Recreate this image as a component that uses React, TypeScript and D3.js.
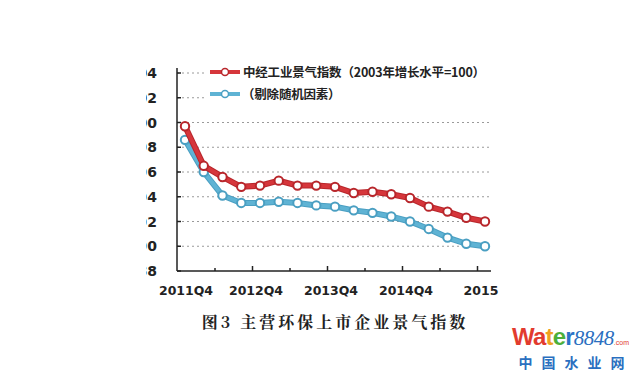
import React, { useEffect, useRef } from 'react'
import * as d3 from 'd3'

// quarterly points, 2011Q4 .. 2015Q4
const quarters = [
  '2011Q4', '2012Q1', '2012Q2', '2012Q3', '2012Q4', '2013Q1', '2013Q2', '2013Q3', '2013Q4',
  '2014Q1', '2014Q2', '2014Q3', '2014Q4', '2015Q1', '2015Q2', '2015Q3', '2015Q4'
]
const indexValues = [99.7, 96.5, 95.6, 94.8, 94.9, 95.3, 94.9, 94.9, 94.8, 94.3, 94.4, 94.2, 93.9, 93.2, 92.8, 92.3, 92.0]
const adjustedValues = [98.6, 96.0, 94.1, 93.5, 93.5, 93.6, 93.5, 93.3, 93.2, 92.9, 92.7, 92.4, 92.0, 91.4, 90.7, 90.2, 90.0]
const yTicks = [104, 102, 100, 98, 96, 94, 92, 90, 88]
const gridTicks = [100, 98, 96, 94, 92, 90]
const xLabels = [
  { i: 0, text: '2011Q4' },
  { i: 4, text: '2012Q4' },
  { i: 8, text: '2013Q4' },
  { i: 12, text: '2014Q4' },
  { i: 16, text: '2015' }
]
const seriesNames = ['中经工业景气指数（2003年增长水平=100）', '（剔除随机因素）']

const RED = '#d6363b'
const BLUE = '#5fb3d4'
const AXIS_FONT = '"DejaVu Sans", "Noto Sans", sans-serif'
const CJK = '"Noto Sans CJK SC", sans-serif'

const App: React.FC = () => {
  const svgRef = useRef<SVGSVGElement>(null)

  useEffect(() => {
    if (!svgRef.current) return
    const svg = d3.select(svgRef.current)
    svg.selectAll('*').remove()

    const x = d3.scaleLinear().domain([0, quarters.length - 1]).range([185, 485])
    const y = d3.scaleLinear().domain([88, 104]).range([271, 73])
    const axisX = 177

    // the source image is cropped on the left, hiding the first digits
    svg.append('defs').append('clipPath').attr('id', 'ylab-clip')
      .append('rect').attr('x', 146).attr('y', 50).attr('width', 30).attr('height', 240)

    // grid
    svg.append('g').selectAll('line')
      .data(gridTicks)
      .enter().append('line')
      .attr('x1', axisX).attr('x2', 490)
      .attr('y1', d => y(d)).attr('y2', d => y(d))
      .attr('stroke', '#9a9a9a').attr('stroke-width', 1)
      .attr('stroke-dasharray', '2,3')

    svg.append('g').selectAll('line')
      .data([104, 102])
      .enter().append('line')
      .attr('x1', axisX).attr('x2', 205)
      .attr('y1', d => y(d)).attr('y2', d => y(d))
      .attr('stroke', '#9a9a9a').attr('stroke-width', 1)
      .attr('stroke-dasharray', '2,3')

    // axes
    svg.append('line')
      .attr('x1', axisX).attr('x2', axisX).attr('y1', 68).attr('y2', y(88))
      .attr('stroke', '#222').attr('stroke-width', 1.5)
    svg.append('line')
      .attr('x1', axisX).attr('x2', 491).attr('y1', y(88)).attr('y2', y(88))
      .attr('stroke', '#222').attr('stroke-width', 1.5)

    svg.append('g').selectAll('line')
      .data(yTicks)
      .enter().append('line')
      .attr('x1', axisX).attr('x2', axisX + 4)
      .attr('y1', d => y(d)).attr('y2', d => y(d))
      .attr('stroke', '#222').attr('stroke-width', 1.5)

    svg.append('g').attr('clip-path', 'url(#ylab-clip)')
      .selectAll('text')
      .data(yTicks)
      .enter().append('text')
      .attr('x', 157).attr('y', d => y(d) + 5)
      .attr('text-anchor', 'end')
      .style('font-family', AXIS_FONT).style('font-size', '14px').style('font-weight', 'bold')
      .attr('fill', '#222')
      .text(d => String(d))

    const tickIdx = d3.range(2, quarters.length, 2)
    svg.append('g').selectAll('line')
      .data(tickIdx)
      .enter().append('line')
      .attr('x1', d => x(d - 0.4)).attr('x2', d => x(d - 0.4))
      .attr('y1', y(88)).attr('y2', d => y(88) - (d % 4 === 0 ? 5 : 3))
      .attr('stroke', '#222').attr('stroke-width', 1.5)

    svg.append('g').selectAll('text')
      .data(xLabels)
      .enter().append('text')
      .attr('x', d => x(d.i) + (d.i === 0 ? 1 : -4)).attr('y', 295)
      .attr('text-anchor', 'middle')
      .style('font-family', AXIS_FONT).style('font-size', '12.5px').style('font-weight', 'bold')
      .attr('fill', '#222')
      .text(d => d.text)

    // series
    const line = d3.line<number>().x((_, i) => x(i)).y(d => y(d))
    const series = [
      { values: adjustedValues, color: BLUE, dark: '#4a9fc2' },
      { values: indexValues, color: RED, dark: '#b8262b' }
    ]
    series.forEach(s => {
      svg.append('path').datum(s.values)
        .attr('d', line)
        .attr('fill', 'none').attr('stroke', s.dark).attr('stroke-width', 6)
        .attr('stroke-linejoin', 'round')
      svg.append('path').datum(s.values)
        .attr('d', line)
        .attr('fill', 'none').attr('stroke', s.color).attr('stroke-width', 4)
        .attr('stroke-linejoin', 'round')
      svg.append('g').selectAll('circle')
        .data(s.values)
        .enter().append('circle')
        .attr('cx', (_, i) => x(i)).attr('cy', d => y(d))
        .attr('r', 4.2)
        .attr('fill', '#fff').attr('stroke', s.dark).attr('stroke-width', 2)
    })

    // legend
    const legend = svg.append('g')
    legend.append('rect')
      .attr('x', 206).attr('y', 60).attr('width', 290).attr('height', 45)
      .attr('fill', '#fff')
    const legendItems = [
      { name: seriesNames[0], color: RED, dark: '#b8262b', y: 72, tx: 243 },
      { name: seriesNames[1], color: BLUE, dark: '#4a9fc2', y: 94, tx: 242 }
    ]
    legendItems.forEach(l => {
      legend.append('line')
        .attr('x1', 210).attr('x2', 240).attr('y1', l.y).attr('y2', l.y)
        .attr('stroke', l.color).attr('stroke-width', 4)
      legend.append('circle')
        .attr('cx', 225).attr('cy', l.y).attr('r', 3.5)
        .attr('fill', '#fff').attr('stroke', l.dark).attr('stroke-width', 1.5)
      legend.append('text')
        .attr('x', l.tx).attr('y', l.y + 5)
        .style('font-family', CJK).style('font-size', '12.5px').style('font-weight', 'bold')
        .style('letter-spacing', '-0.2px')
        .attr('fill', '#222')
        .text(l.name)
    })

    // caption
    svg.append('text')
      .attr('x', 335).attr('y', 328)
      .attr('text-anchor', 'middle')
      .style('font-family', '"Noto Serif CJK SC", "Noto Sans CJK SC", serif')
      .style('font-size', '16px').style('font-weight', 'bold')
      .style('letter-spacing', '3px')
      .attr('fill', '#222')
      .text('图3 主营环保上市企业景气指数')

    // watermark
    const wm = svg.append('g')
    const wText = wm.append('text')
      .attr('x', 512).attr('y', 345)
      .style('font-family', '"Liberation Sans", Arial, sans-serif')
      .style('font-size', '24px').style('font-weight', 'bold')
      .style('letter-spacing', '-0.8px')
    const parts = [
      { t: 'Wa', c: '#e23b2e' },
      { t: 't', c: '#f0a020' },
      { t: 'e', c: '#4caf3a' },
      { t: 'r', c: '#2a73c8' }
    ]
    parts.forEach(p => wText.append('tspan').attr('fill', p.c).text(p.t))
    wText.append('tspan')
      .attr('fill', '#2a6fc0')
      .style('font-family', '"Liberation Serif", serif').style('font-style', 'italic')
      .style('font-weight', 'normal').style('font-size', '21px')
      .style('letter-spacing', '-0.5px')
      .text('8848')
    wText.append('tspan')
      .attr('fill', '#e23b2e')
      .style('font-size', '7px').style('font-weight', 'normal')
      .style('letter-spacing', '0px')
      .text('.com')
    wm.append('text')
      .attr('x', 576).attr('y', 368)
      .attr('text-anchor', 'middle')
      .style('font-family', CJK).style('font-size', '14px').style('font-weight', 'bold')
      .style('letter-spacing', '9px')
      .attr('fill', '#2a6fc0')
      .text('中国水业网')
  }, [])

  return (
    <svg
      ref={svgRef}
      width={640}
      height={375}
      style={{ position: 'absolute', left: 0, top: 0, background: '#fff' }}
    />
  )
}

export default App
